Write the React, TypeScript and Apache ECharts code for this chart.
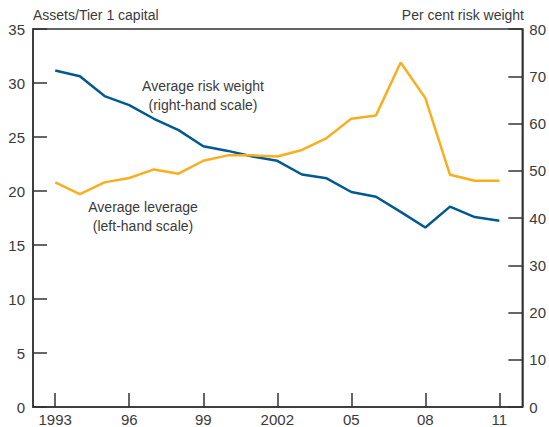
import React, { useEffect, useRef } from "react";
import * as echarts from "echarts";

const years = [1993, 1994, 1995, 1996, 1997, 1998, 1999, 2000, 2001, 2002, 2003, 2004, 2005, 2006, 2007, 2008, 2009, 2010, 2011];
// Average risk weight, per cent (right-hand scale)
const riskWeight = [71.2, 70.0, 65.8, 63.9, 61.0, 58.6, 55.2, 54.2, 53.0, 52.1, 49.2, 48.4, 45.5, 44.5, 41.3, 38.0, 42.4, 40.2, 39.4];
// Average leverage, assets / Tier 1 capital (left-hand scale)
const leverage = [20.8, 19.7, 20.8, 21.2, 22.0, 21.6, 22.8, 23.3, 23.3, 23.2, 23.8, 24.9, 26.7, 27.0, 31.9, 28.6, 21.5, 20.95, 20.95];
const xTickYears = [1993, 1996, 1999, 2002, 2005, 2008, 2011];
const xTickLabels = ["1993", "96", "99", "2002", "05", "08", "11"];

const FONT = "Liberation Sans";
const TEXT = "#3a3a3a";
const AXIS = "#333333";

export default function App() {
  const ref = useRef<HTMLDivElement>(null);
  useEffect(() => {
    if (!ref.current) return;
    const chart = echarts.init(ref.current, undefined, { renderer: "svg" });
    const labelMap: Record<number, string> = {};
    xTickYears.forEach((y, i) => (labelMap[y] = xTickLabels[i]));
    const axisLine = { show: true, lineStyle: { color: AXIS, width: 1.5 } };
    const tick = { show: true, inside: true, length: 14, lineStyle: { color: AXIS, width: 1.5 } };
    chart.setOption({
      animation: false,
      grid: { left: 33, right: 25, top: 29, bottom: 20, show: true, borderColor: AXIS, borderWidth: 1.5, backgroundColor: "transparent" },
      xAxis: {
        type: "value",
        min: 1992.1,
        max: 2011.93,
        axisLine,
        splitLine: { show: false },
        axisTick: { ...tick, customValues: xTickYears },
        axisLabel: {
          customValues: xTickYears,
          formatter: (v: number) => labelMap[Math.round(v)] ?? "",
          color: TEXT,
          fontFamily: FONT,
          fontSize: 15,
          margin: 5,
        },
      },
      yAxis: [
        {
          type: "value",
          min: 0,
          max: 35,
          interval: 5,
          position: "left",
          axisLine,
          axisTick: tick,
          splitLine: { show: false },
          axisLabel: { color: TEXT, fontFamily: FONT, fontSize: 15, margin: 8 },
        },
        {
          type: "value",
          min: 0,
          max: 80,
          interval: 10,
          position: "right",
          axisLine,
          axisTick: tick,
          splitLine: { show: false },
          axisLabel: { color: TEXT, fontFamily: FONT, fontSize: 15, margin: 7 },
        },
      ],
      series: [
        {
          type: "line",
          yAxisIndex: 1,
          data: years.map((y, i) => [y, riskWeight[i]]),
          showSymbol: false,
          lineStyle: { color: "#005A8F", width: 2.5 },
          itemStyle: { color: "#005A8F" },
        },
        {
          type: "line",
          yAxisIndex: 0,
          data: years.map((y, i) => [y, leverage[i]]),
          showSymbol: false,
          lineStyle: { color: "#F8AE1E", width: 2.5 },
          itemStyle: { color: "#F8AE1E" },
        },
      ],
      graphic: [
        { type: "text", left: 33, top: 8, style: { text: "Assets/Tier 1 capital", fill: TEXT, font: `14px ${FONT}` } },
        { type: "text", right: 25, top: 8, style: { text: "Per cent risk weight", fill: TEXT, font: `14px ${FONT}`, textAlign: "right" } },
        { type: "text", x: 203, y: 76, style: { text: "Average risk weight\n(right-hand scale)", fill: TEXT, font: `14px ${FONT}`, textAlign: "center", lineHeight: 19 } },
        { type: "text", x: 143, y: 197, style: { text: "Average leverage\n(left-hand scale)", fill: TEXT, font: `14px ${FONT}`, textAlign: "center", lineHeight: 19 } },
      ],
    });
    return () => chart.dispose();
  }, []);
  return <div ref={ref} style={{ position: "fixed", left: 0, top: 0, width: 549, height: 427, background: "#fff" }} />;
}
